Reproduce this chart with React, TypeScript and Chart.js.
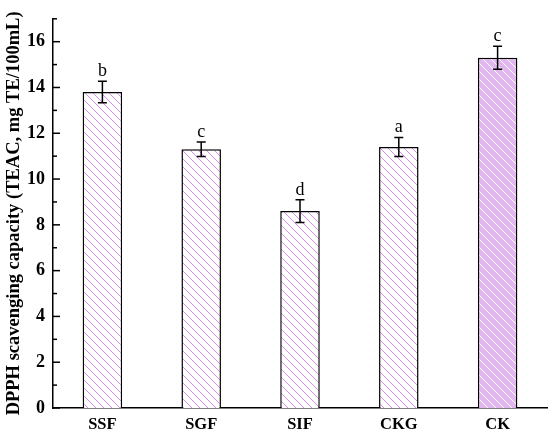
import React, { useEffect, useRef } from "react";
import { Chart, registerables } from "chart.js";

Chart.register(...registerables);

const categories = ["SSF", "SGF", "SIF", "CKG", "CK"];
const values = [13.8, 11.3, 8.6, 11.4, 15.3];
const errors = [0.47, 0.32, 0.5, 0.42, 0.5];
const letters = ["b", "c", "d", "a", "c"];
const yTitle = "DPPH scavenging capacity (TEAC, mg TE/100mL)";

const SERIF = "'Liberation Serif', 'Times New Roman', serif";

function makePattern(bg: string, line: string): CanvasPattern | string {
  const s = 8;
  const c = document.createElement("canvas");
  c.width = s;
  c.height = s;
  const g = c.getContext("2d");
  if (!g) return bg;
  g.fillStyle = bg;
  g.fillRect(0, 0, s, s);
  g.strokeStyle = line;
  g.lineWidth = 1;
  for (const off of [-s, 0, s]) {
    g.beginPath();
    g.moveTo(off, 0);
    g.lineTo(off + s, s);
    g.stroke();
  }
  const p = g.createPattern(c, "repeat");
  return p || bg;
}

const overlay = {
  id: "overlay",
  afterDatasetsDraw(chart: any) {
    const ctx = chart.ctx;
    const xs = chart.scales.x;
    const ys = chart.scales.y;
    ctx.save();
    ctx.strokeStyle = "#000";
    ctx.lineWidth = 1.5;
    values.forEach((v, i) => {
      const cx = xs.getPixelForValue(i);
      const top = ys.getPixelForValue(v + errors[i]);
      const bot = ys.getPixelForValue(v - errors[i]);
      ctx.beginPath();
      ctx.moveTo(cx, top);
      ctx.lineTo(cx, bot);
      ctx.moveTo(cx - 4.5, top);
      ctx.lineTo(cx + 4.5, top);
      ctx.moveTo(cx - 4.5, bot);
      ctx.lineTo(cx + 4.5, bot);
      ctx.stroke();
      ctx.fillStyle = "#000";
      ctx.font = `18px ${SERIF}`;
      ctx.textAlign = "center";
      ctx.textBaseline = "alphabetic";
      ctx.fillText(letters[i], cx, top - 5);
    });
    // inward ticks on y axis
    const left = chart.chartArea.left;
    for (let t = 0; t <= 17; t++) {
      const py = ys.getPixelForValue(t);
      const len = t % 2 === 0 ? 7 : 4;
      ctx.beginPath();
      ctx.moveTo(left, py);
      ctx.lineTo(left + len, py);
      ctx.stroke();
    }
    ctx.restore();
  },
};

export default function App() {
  const ref = useRef<HTMLCanvasElement | null>(null);
  useEffect(() => {
    if (!ref.current) return;
    const hatch = makePattern("#ffffff", "#d98cf0");
    const hatchCK = makePattern("#e2b6ee", "#ffffff");
    const chart = new Chart(ref.current, {
      type: "bar",
      data: {
        labels: categories,
        datasets: [
          {
            data: values,
            backgroundColor: [hatch, hatch, hatch, hatch, hatchCK] as any,
            borderColor: "#000",
            borderWidth: 1.5,
            barPercentage: 0.4,
            categoryPercentage: 1,
          },
        ],
      },
      options: {
        responsive: false,
        animation: false,
        layout: { padding: { top: 10, right: 3, left: 0, bottom: 0 } },
        plugins: {
          legend: { display: false },
          tooltip: { enabled: false },
        },
        scales: {
          x: {
            grid: { display: false, drawTicks: false },
            border: { display: true, color: "#000", width: 1.5 },
            ticks: {
              color: "#000",
              padding: 7,
              font: { family: SERIF, size: 16.5, weight: "bold" },
            },
            afterFit: (s: any) => {
              s.height = 31;
            },
          },
          y: {
            min: 0,
            max: 17,
            grid: { display: false, drawTicks: false },
            border: { display: true, color: "#000", width: 1.5 },
            ticks: {
              stepSize: 2,
              includeBounds: false,
              color: "#000",
              padding: 8,
              font: { family: SERIF, size: 18, weight: "bold" },
              callback: (v: any) => (Number(v) % 2 === 0 ? String(v) : ""),
            },
            title: {
              display: true,
              text: yTitle,
              color: "#000",
              padding: { top: 3, bottom: 0 },
              font: { family: SERIF, size: 18.5, weight: "bold" },
            },
            afterFit: (s: any) => {
              s.width = 53;
            },
          },
        },
      },
      plugins: [overlay],
    });
    return () => chart.destroy();
  }, []);
  return (
    <div style={{ position: "fixed", left: 0, top: 0, width: 550, height: 439, background: "#fff" }}>
      <canvas ref={ref} width={550} height={439} style={{ width: 550, height: 439 }} />
    </div>
  );
}
